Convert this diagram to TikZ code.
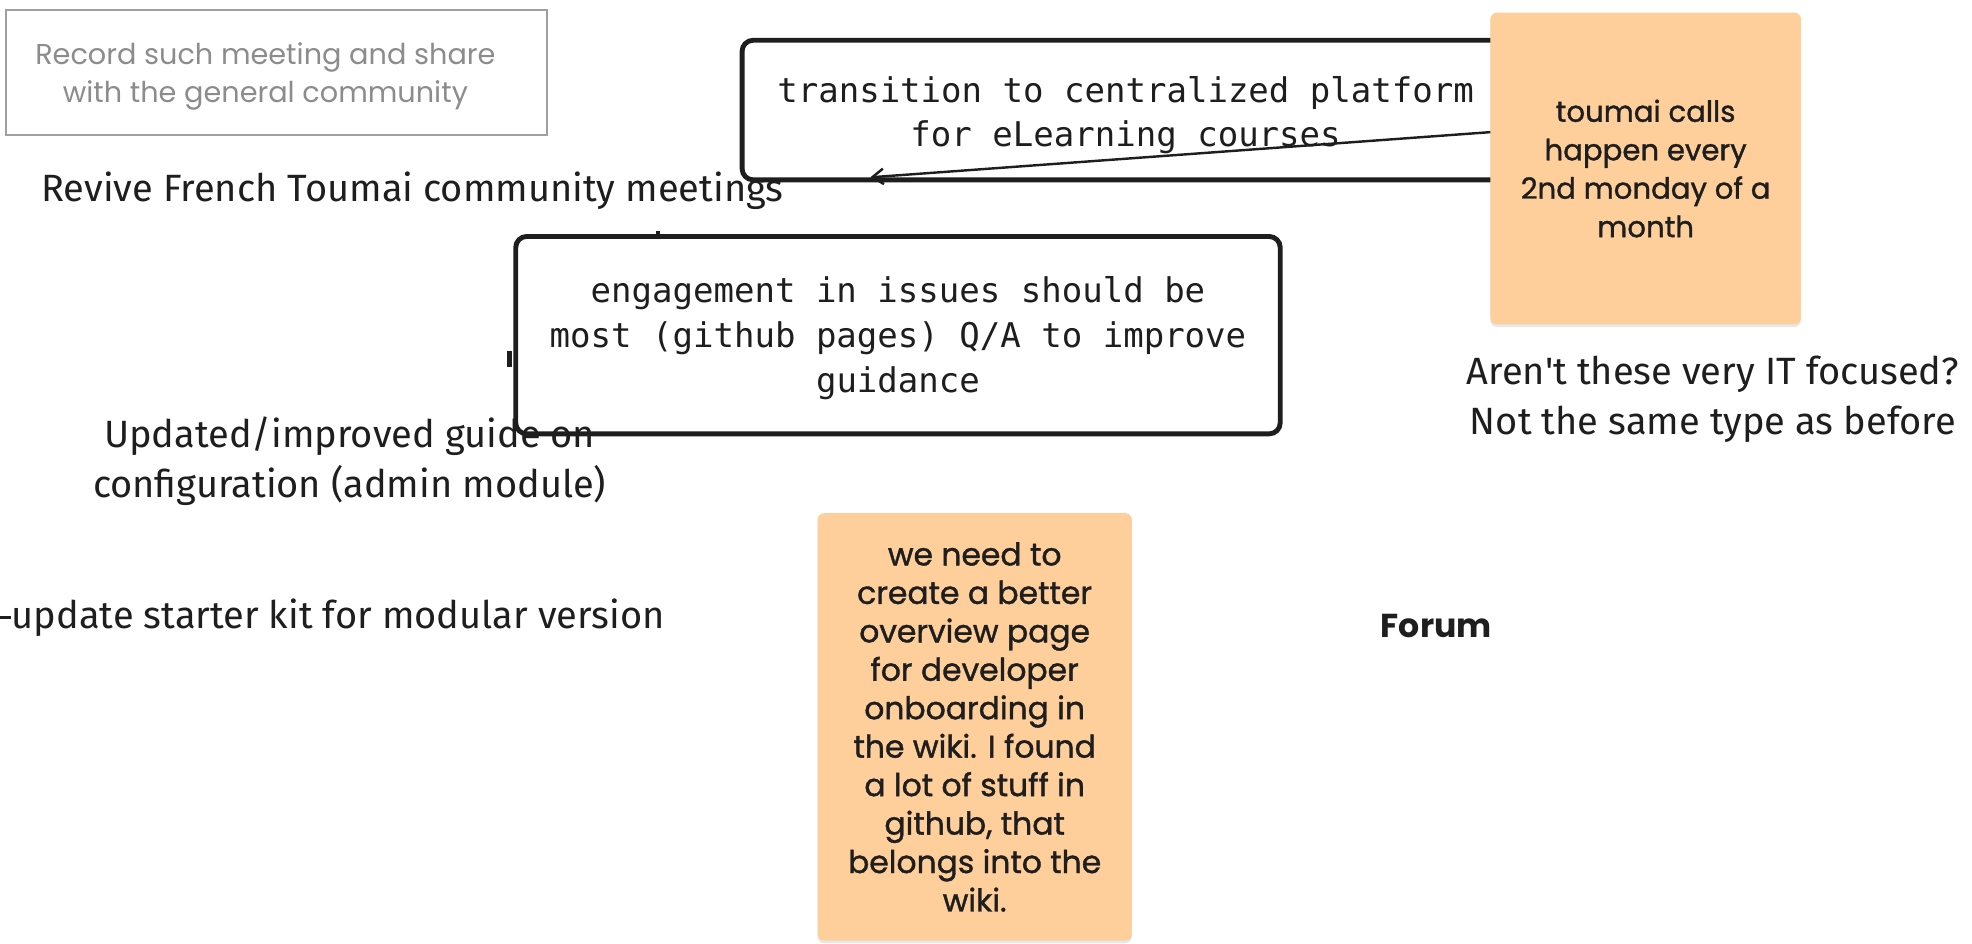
\documentclass[tikz,border=0pt]{standalone}
\usepackage{fontspec}
\setmainfont{Fira Sans}
\newfontfamily\monofont{DejaVu Sans Mono}
\newfontfamily\handfont{Poppins}
\newfontfamily\handbold[FakeBold=1.2]{Poppins}
\usetikzlibrary{arrows.meta,shadows,calc}
\definecolor{ink}{RGB}{30,30,30}
\definecolor{stickyfill}{RGB}{255,207,155}
\definecolor{faint}{RGB}{140,140,140}
\definecolor{framegray}{RGB}{160,160,160}

\begin{document}
\begin{tikzpicture}[x=0.02cm,y=-0.02cm,
  plain/.style={font=\fontsize{17.2}{22.7}\selectfont, text=ink, align=center, inner sep=0pt},
  monobox/.style={draw=ink, line width=2.2pt, rounded corners=5pt, inner sep=0pt},
  mono/.style={font=\monofont\fontsize{15.4}{20.3}\selectfont, text=ink, align=center, inner sep=0pt},
  hand/.style={font=\handfont\fontsize{13}{17}\selectfont, text=faint, align=center, inner sep=0pt},
  sticky/.style={fill=stickyfill, rounded corners=3pt,
    drop shadow={shadow xshift=0pt, shadow yshift=-1.2pt, opacity=0.18},
    text=ink, align=center, inner sep=0pt},
  stub/.style={draw=ink, line width=2pt}
]
\useasboundingbox (0,0) rectangle (1568,750);
\fill[white] (0,0) rectangle (1568,750);

% gray note box
\node[draw=framegray, line width=0.9pt, minimum width=8.6cm, minimum height=1.98cm, inner sep=0pt]
  (record) at (220,57.5) {};
\node[hand] (recordtext) at (211,61) {Record such meeting and share\\with the general community};

% free-standing labels
\node[plain] (revive) at (328,152) {Revive French Toumai community meetings};
\node[plain] (updated) at (278,367) {Updated/improved guide on\\configuration (admin module)};
\node[plain, anchor=west] (starter) at (9,491) {update starter kit for modular version};
\coordinate (starterlead) at (0,491);
\draw[stub, line width=1.3pt] (starterlead) -- (starter.west);
\node[plain] (itq) at (1362,317.5) {Aren\textquotesingle t these very IT focused?\\Not the same type as before};
\node[font=\handfont\bfseries\fontsize{15}{18}\selectfont, text=ink, inner sep=0pt] (forum) at (1142,498) {Forum};

% outlined boxes
\node[monobox, minimum width=12.2cm, minimum height=2.22cm] (platform) at (895,87.5) {};
\node[mono] (platformtext) at (895,91.5) {transition to centralized platform\\for eLearning courses};
\node[monobox, minimum width=12.16cm, minimum height=3.14cm] (issues) at (714,266.5) {};
\node[mono] (issuestext) at (714,269) {engagement in issues should be\\most (github pages) Q/A to improve\\guidance};

% small connector stubs on the issues box
\coordinate (stubtop) at (523,184);
\draw[stub] (stubtop) -- (stubtop |- issues.north);
\coordinate (stubleft) at (405,279);
\draw[stub] (stubleft) -- ++(0,13);

% sticky notes and the arrow leaving the first one
\coordinate (arrowend) at (692,141);
\coordinate (arrowstart) at (1186,105);
\draw[ink, line width=1.1pt, -{Straight Barb[length=5pt,width=7pt]}] (arrowstart) -- (arrowend);

\node[sticky, minimum width=4.94cm, minimum height=4.96cm,
  font=\handbold\fontsize{13.2}{17.4}\selectfont] (calls) at (1308.5,134)
  {toumai calls\\happen every\\2nd monday of a\\month};
\node[sticky, minimum width=5cm, minimum height=6.8cm,
  font=\handbold\fontsize{14.2}{17.4}\selectfont] (wiki) at (775,578)
  {we need to\\create a better\\overview page\\for developer\\onboarding in\\the wiki. I found\\a lot of stuff in\\github, that\\belongs into the\\wiki.};
\end{tikzpicture}
\end{document}
